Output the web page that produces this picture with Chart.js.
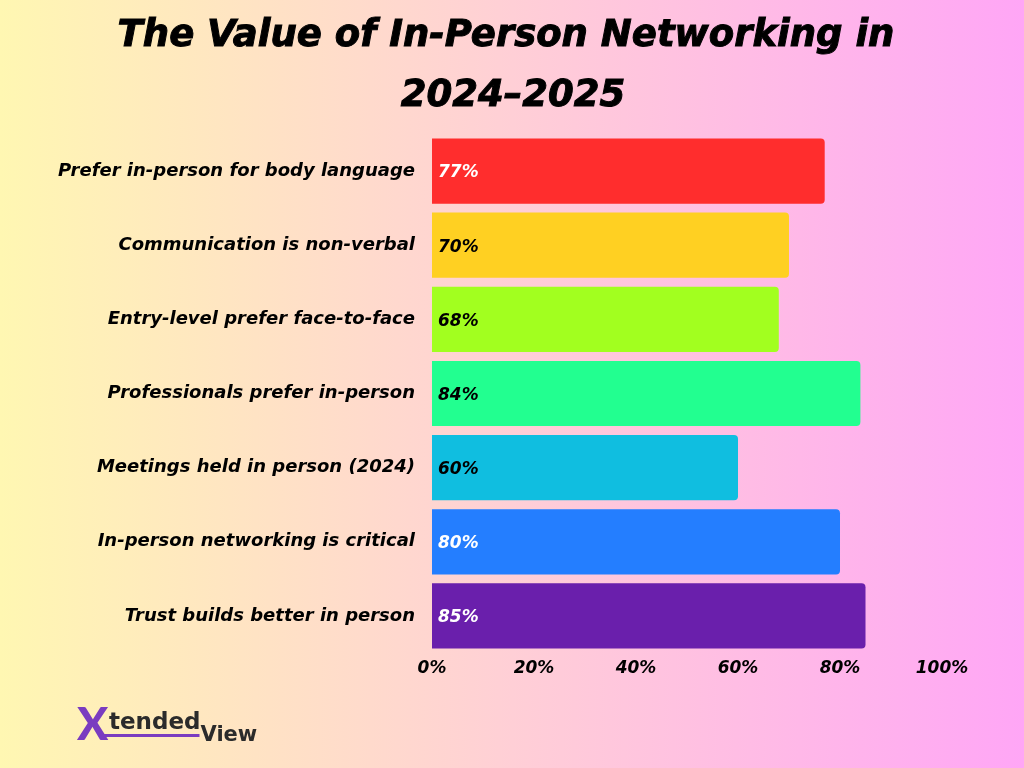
<!DOCTYPE html>
<html>
<head>
<meta charset="utf-8">
<title>The Value of In-Person Networking in 2024–2025</title>
<script src="https://cdn.jsdelivr.net/npm/chart.js@4.4.1/dist/chart.umd.min.js"></script>
<style>
  html, body { margin: 0; padding: 0; }
  body {
    width: 1024px;
    height: 768px;
    background: linear-gradient(to right, #fff7b2 0%, #ffcfd6 50%, #ffa6f6 100%);
    overflow: hidden;
  }
  #wrap { position: relative; width: 1024px; height: 768px; }
</style>
</head>
<body>
<div id="wrap"><canvas id="chart" width="1024" height="768"></canvas></div>
<script>
// chart data
const titleLines = ["The Value of In-Person Networking in", "2024\u20132025"];
const categories = [
  "Prefer in-person for body language",
  "Communication is non-verbal",
  "Entry-level prefer face-to-face",
  "Professionals prefer in-person",
  "Meetings held in person (2024)",
  "In-person networking is critical",
  "Trust builds better in person"
];
const values = [77, 70, 68, 84, 60, 80, 85];
const barColors = ["#ff2d2d", "#ffd022", "#a2ff1f", "#22ff90", "#10bee0", "#247eff", "#6a1fac"];
const labelColors = ["#ffffff", "#000000", "#000000", "#000000", "#000000", "#ffffff", "#ffffff"];
const tickValues = [0, 20, 40, 60, 80, 100];

const FONT = "'DejaVu Sans', sans-serif";

// title centred on the whole canvas (the built-in one follows the padding)
const pageTitle = {
  id: "pageTitle",
  afterDraw(chart) {
    const ctx = chart.ctx;
    ctx.save();
    ctx.font = "oblique bold 37px " + FONT;
    ctx.fillStyle = "#000000";
    ctx.strokeStyle = "#000000";
    ctx.lineWidth = 1;
    ctx.textAlign = "center";
    ctx.textBaseline = "middle";
    const cx = chart.width / 2;
    ctx.fillText(titleLines[0], cx - 6, 36);
    ctx.strokeText(titleLines[0], cx - 6, 36);
    ctx.fillText(titleLines[1], cx + 1, 96);
    ctx.strokeText(titleLines[1], cx + 1, 96);
    ctx.restore();
  }
};

// value labels drawn at the start of each bar
const valueLabels = {
  id: "valueLabels",
  afterDatasetsDraw(chart) {
    const ctx = chart.ctx;
    const meta = chart.getDatasetMeta(0);
    ctx.save();
    ctx.font = "oblique bold 17px " + FONT;
    ctx.textBaseline = "middle";
    ctx.textAlign = "left";
    meta.data.forEach((bar, i) => {
      ctx.fillStyle = labelColors[i];
      ctx.fillText(values[i] + "%", bar.base + 6, bar.y + 2);
    });
    ctx.restore();
  }
};

// brand mark bottom left
const brand = {
  id: "brand",
  afterDraw(chart) {
    const ctx = chart.ctx;
    ctx.save();
    ctx.textBaseline = "alphabetic";
    ctx.font = "900 46px Lato, sans-serif";
    ctx.fillStyle = "#7a3cc0";
    ctx.fillText("X", 77, 740);
    ctx.font = "bold 23px " + FONT;
    ctx.fillStyle = "#2b2b2b";
    ctx.fillText("tended", 109, 729);
    const w = ctx.measureText("tended").width;
    ctx.fillStyle = "#7a3cc0";
    ctx.fillRect(104, 734, w + 4, 3);
    ctx.font = "bold 21px " + FONT;
    ctx.fillStyle = "#2b2b2b";
    ctx.fillText("View", 109 + w, 741);
    ctx.restore();
  }
};

new Chart(document.getElementById("chart"), {
  type: "bar",
  data: {
    labels: categories,
    datasets: [{
      data: values,
      backgroundColor: barColors,
      borderRadius: 4,
      borderSkipped: "start",
      barPercentage: 0.88,
      categoryPercentage: 1
    }]
  },
  options: {
    indexAxis: "y",
    responsive: false,
    animation: false,
    layout: { padding: { top: 134, right: 82, bottom: 0, left: 0 } },
    plugins: {
      legend: { display: false },
      tooltip: { enabled: false },
      title: { display: false }
    },
    scales: {
      x: {
        min: 0,
        max: 100,
        afterBuildTicks(scale) {
          scale.ticks = tickValues.map((v) => ({ value: v }));
        },
        afterFit(scale) { scale.height = 115; },
        grid: { display: false, drawTicks: false },
        border: { display: false },
        ticks: {
          padding: 5,
          color: "#000000",
          font: { family: FONT, size: 17, weight: "bold", style: "oblique" },
          callback: (v) => v + "%"
        }
      },
      y: {
        afterFit(scale) { scale.width = 432; },
        grid: { display: false, drawTicks: false },
        border: { display: false },
        ticks: {
          padding: 17,
          color: "#000000",
          font: { family: FONT, size: 18, weight: "bold", style: "oblique" }
        }
      }
    }
  },
  plugins: [valueLabels, pageTitle, brand]
});
</script>
</body>
</html>
